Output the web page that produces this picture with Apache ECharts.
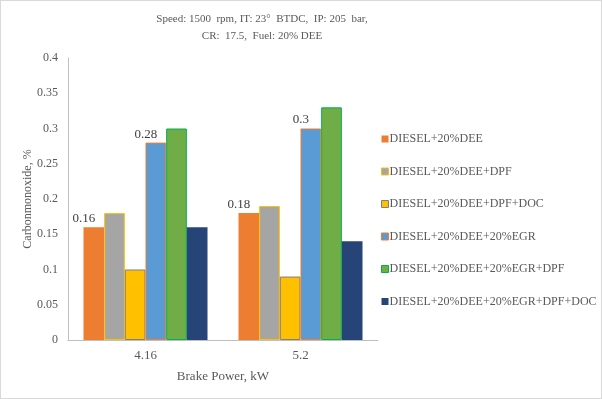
<!DOCTYPE html>
<html>
<head>
<meta charset="utf-8">
<script src="https://cdn.jsdelivr.net/npm/echarts@6/dist/echarts.min.js"></script>
<style>
  html, body { margin: 0; padding: 0; background: #fff; }
  #main { width: 600px; height: 397px; border: 1px solid #d9d9d9; }
</style>
</head>
<body>
<div id="main"></div>
<script>
const categories = ['4.16', '5.2']
const seriesNames = [
  'DIESEL+20%DEE',
  'DIESEL+20%DEE+DPF',
  'DIESEL+20%DEE+DPF+DOC',
  'DIESEL+20%DEE+20%EGR',
  'DIESEL+20%DEE+20%EGR+DPF',
  'DIESEL+20%DEE+20%EGR+DPF+DOC'
]
const dee = [0.16, 0.18]
const deeDpf = [0.18, 0.19]
const deeDpfDoc = [0.10, 0.09]
const deeEgr = [0.28, 0.30]
const deeEgrDpf = [0.30, 0.33]
const deeEgrDpfDoc = [0.16, 0.14]

const colors = ['#ED7D31', '#A5A5A5', '#FFC000', '#5B9BD5', '#70AD47', '#264478']
const borders = [null, '#FFC000', '#7F7F7F', '#ED7D31', '#00B050', null]
const values = [dee, deeDpf, deeDpfDoc, deeEgr, deeEgrDpf, deeEgrDpfDoc]
const labelled = [true, false, false, true, false, false]

const font = 'Liberation Serif'
const grey = '#595959'

const series = values.map((data, i) => {
  return {
    name: seriesNames[i],
    type: 'bar',
    data: data,
    barGap: '0%',
    barCategoryGap: '20%',
    itemStyle: {
      color: colors[i],
      borderColor: borders[i] || colors[i],
      borderWidth: borders[i] ? 1 : 0
    },
    label: {
      show: labelled[i],
      position: 'top',
      offset: [-10, 3],
      fontFamily: font,
      fontSize: 13,
      color: '#404040'
    }
  }
})

const myChart = echarts.init(document.getElementById('main'))
const option = {
  animation: false,
  color: colors,
  textStyle: { fontFamily: font },
  title: {
    text: 'Speed: 1500  rpm, IT: 23°  BTDC,  IP: 205  bar,\nCR:  17.5,  Fuel: 20% DEE',
    left: 256,
    top: 5,
    textAlign: 'center',
    textStyle: {
      fontFamily: font,
      fontSize: 11,
      fontWeight: 'normal',
      color: grey,
      lineHeight: 17
    }
  },
  legend: {
    orient: 'vertical',
    left: 375,
    top: 127,
    itemWidth: 7,
    itemHeight: 7,
    itemGap: 20.5,
    icon: 'rect',
    data: seriesNames.map((name, i) => ({
      name: name,
      itemStyle: {
        color: colors[i],
        borderColor: borders[i] || colors[i],
        borderWidth: borders[i] ? 1 : 0
      }
    })),
    textStyle: {
      fontFamily: font,
      fontSize: 12,
      color: grey,
      padding: [0, 0, 0, -4]
    }
  },
  grid: {
    left: 67,
    right: 223,
    top: 57,
    bottom: 58,
    containLabel: false
  },
  xAxis: {
    type: 'category',
    data: categories,
    name: 'Brake Power, kW',
    nameLocation: 'middle',
    nameGap: 30,
    nameTextStyle: { fontFamily: font, fontSize: 13, color: grey },
    axisLine: { show: true, lineStyle: { color: '#bfbfbf' } },
    axisTick: { show: false },
    axisLabel: { fontFamily: font, fontSize: 13, color: grey, margin: 9 }
  },
  yAxis: {
    type: 'value',
    min: 0,
    max: 0.4,
    interval: 0.05,
    name: 'Carbonmonoxide, %',
    nameLocation: 'middle',
    nameGap: 34,
    nameMoveOverlap: false,
    nameTextStyle: { fontFamily: font, fontSize: 12, color: grey },
    axisLine: { show: true, lineStyle: { color: '#bfbfbf' } },
    axisTick: { show: false },
    splitLine: { show: false },
    axisLabel: { fontFamily: font, fontSize: 12, color: grey, margin: 10 }
  },
  series: series
}
myChart.setOption(option)
</script>
</body>
</html>
